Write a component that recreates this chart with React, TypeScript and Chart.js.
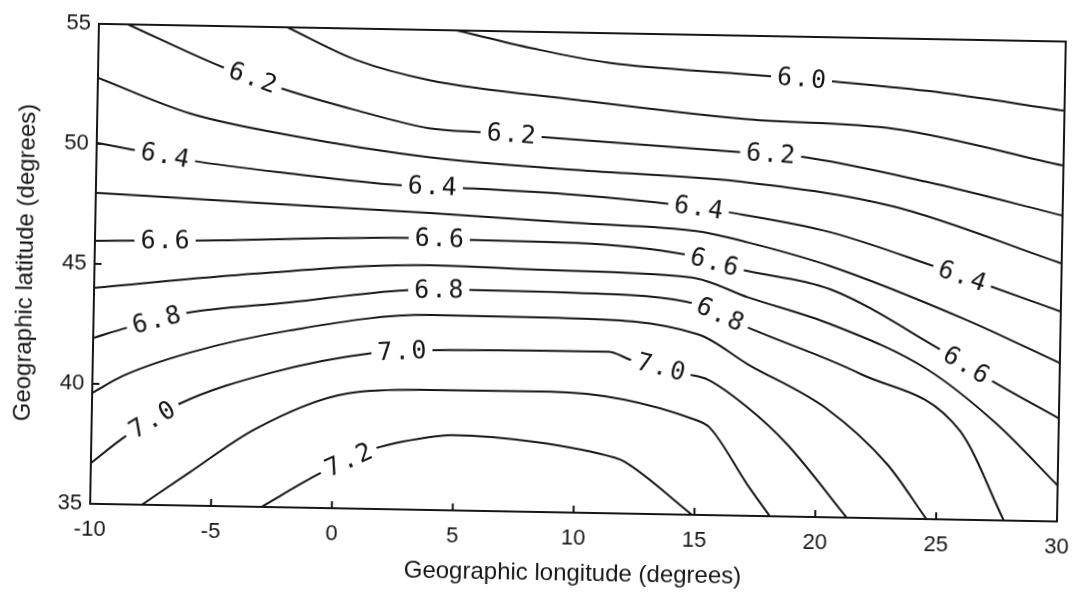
import React, { useEffect, useRef } from 'react';
import { Chart, registerables } from 'chart.js';

Chart.register(...registerables);

// Axis ticks
const lonTicks = [-10, -5, 0, 5, 10, 15, 20, 25, 30];
const latTicks = [35, 40, 45, 50, 55];

// Contour lines (longitude / latitude, degrees)
const c60Lon = [4.8, 8.0, 11.1, 16.9, 20.3, 24.3, 30];
const c60Lat = [55, 54.3, 53.77, 53.39, 53.17, 52.84, 52.12];

const c61Lon = [-2.2, 0.7, 3.7, 9.8, 16.9, 23.0, 30];
const c61Lat = [55, 53.68, 52.91, 52.2, 51.52, 51.23, 49.83];

const c62Lon = [-8.8, -4.8, -2.4, 0.7, 3.7, 6.1, 8.2, 16.6, 19.0, 24.35, 30];
const c62Lat = [55, 53.27, 52.45, 51.6, 50.91, 50.77, 50.64, 50.15, 50.02, 49.05, 47.75];

const c63Lon = [-10, -6.15, -2.0, 3.73, 9.8, 16.95, 23.0, 30];
const c63Lat = [52.75, 51.33, 50.5, 49.7, 49.28, 48.89, 48.0, 45.75];

const c64Lon = [-10, -6.05, -2.05, 2.55, 5.15, 9.85, 13.98, 16.26, 20.4, 24.8, 27.0, 30];
const c64Lat = [50.04, 49.37, 48.92, 48.51, 48.44, 48.24, 47.91, 47.62, 46.88, 45.51, 44.77, 43.75];

const c65Lon = [-10, -3.34, 3.8, 9.85, 14.95, 17.0, 20.45, 26.0, 30];
const c65Lat = [47.96, 47.67, 47.37, 47.07, 46.81, 46.39, 45.46, 43.37, 41.6];

const c66Lon = [-10, -5.96, 3.5, 5.6, 9.87, 14.4, 16.7, 20.45, 25.0, 27.2, 30];
const c66Lat = [45.96, 46.04, 46.32, 46.28, 46.24, 45.84, 45.26, 44.5, 42.1, 40.81, 39.3];

const c67Lon = [-10, -3.28, 3.84, 8.5, 14.7, 17.06, 20.48, 24.5, 27.43, 30];
const c67Lat = [44.0, 44.72, 45.2, 45.09, 44.89, 44.1, 43.05, 41.25, 39.02, 36.5];

const c68Lon = [-10, -8.62, -6.32, -1.91, 2.9, 5.5, 9.92, 14.99, 17.07, 21.76, 25.92, 27.8];
const c68Lat = [41.91, 42.36, 42.99, 43.54, 44.14, 44.2, 44.16, 43.77, 42.85, 41.0, 38.7, 35];

const c69Lon = [-10, -8.75, -6.0, -1.89, 3.88, 9.24, 15.02, 17.1, 20.42, 22.93, 24.6];
const c69Lat = [39.62, 40.35, 41.37, 42.37, 43.12, 43.1, 42.52, 41.31, 39.5, 37.26, 35];

const c70Lon = [-10, -8.56, -6.39, -2.57, 1.54, 4.01, 11.31, 12.25, 14.62, 15.43, 17.11, 18.79, 21.3];
const c70Lat = [36.7, 37.86, 39.23, 40.61, 41.49, 41.66, 41.73, 41.41, 40.85, 40.65, 39.52, 38.0, 35];

const c71Lon = [-7.86, -5.93, -3.2, 0.61, 3.91, 8.99, 14.94, 15.56, 17.16, 18.12];
const c71Lat = [35, 36.37, 38.26, 39.8, 40.0, 40.02, 38.97, 38.65, 36.31, 35];

const c72Lon = [-2.91, -0.45, 1.76, 3.94, 4.89, 8.35, 11.66, 12.07, 14.9];
const c72Lat = [35, 36.48, 37.53, 38.03, 38.14, 37.92, 37.32, 37.16, 35];

const levels = ['6.0', '6.1', '6.2', '6.3', '6.4', '6.5', '6.6', '6.7', '6.8', '6.9', '7.0', '7.1', '7.2'];
const contourLons = [c60Lon, c61Lon, c62Lon, c63Lon, c64Lon, c65Lon, c66Lon, c67Lon, c68Lon, c69Lon, c70Lon, c71Lon, c72Lon];
const contourLats = [c60Lat, c61Lat, c62Lat, c63Lat, c64Lat, c65Lat, c66Lat, c67Lat, c68Lat, c69Lat, c70Lat, c71Lat, c72Lat];

// Inline contour labels: which level, at which longitude
const labelLevels = ['6.0', '6.2', '6.2', '6.2', '6.4', '6.4', '6.4', '6.4', '6.6', '6.6', '6.6', '6.6', '6.8', '6.8', '6.8', '7.0', '7.0', '7.0', '7.2'];
const labelLons = [19.1, -3.6, 7.13, 17.88, -7.17, 3.91, 14.94, 25.89, -7.1, 4.24, 15.63, 26.12, -7.39, 4.26, 15.91, -7.49, 2.78, 13.5, 0.66];

const INK = '#161616';

const contourLabelPlugin = {
  id: 'contourLabels',
  afterDatasetsDraw(chart: any) {
    const { ctx, scales } = chart;
    const xs = scales.x;
    const ys = scales.y;
    ctx.save();
    ctx.font = '25px "DejaVu Sans Mono", monospace';
    ctx.textAlign = 'center';
    ctx.textBaseline = 'middle';
    try { (ctx as any).letterSpacing = '2px'; } catch (e) { /* ignore */ }
    for (let k = 0; k < labelLevels.length; k++) {
      const li = levels.indexOf(labelLevels[k]);
      const lon = contourLons[li];
      const lat = contourLats[li];
      const v = labelLons[k];
      let i = 0;
      while (i < lon.length - 2 && lon[i + 1] < v) i++;
      const t = (v - lon[i]) / (lon[i + 1] - lon[i]);
      const la = lat[i] + t * (lat[i + 1] - lat[i]);
      const px = xs.getPixelForValue(v);
      const py = ys.getPixelForValue(la);
      const ang = Math.atan2(
        ys.getPixelForValue(lat[i + 1]) - ys.getPixelForValue(lat[i]),
        xs.getPixelForValue(lon[i + 1]) - xs.getPixelForValue(lon[i])
      );
      const text = labelLevels[k];
      ctx.save();
      ctx.translate(px, py);
      ctx.rotate(ang);
      const w = ctx.measureText(text).width + 10;
      ctx.fillStyle = '#ffffff';
      ctx.fillRect(-w / 2, -10, w, 20);
      ctx.fillStyle = INK;
      ctx.fillText(text, 1, 1);
      ctx.restore();
    }
    ctx.restore();
  },
};

const framePlugin = {
  id: 'frameTicks',
  afterDraw(chart: any) {
    const { ctx, chartArea, scales } = chart;
    const { left, right, top, bottom } = chartArea;
    ctx.save();
    ctx.strokeStyle = INK;
    ctx.lineWidth = 2;
    ctx.strokeRect(left, top, right - left, bottom - top);
    ctx.beginPath();
    for (const v of lonTicks.slice(1, -1)) {
      const px = scales.x.getPixelForValue(v);
      ctx.moveTo(px, bottom);
      ctx.lineTo(px, bottom - 7);
    }
    for (const v of latTicks.slice(1, -1)) {
      const py = scales.y.getPixelForValue(v);
      ctx.moveTo(left, py);
      ctx.lineTo(left + 7, py);
    }
    ctx.stroke();
    ctx.restore();
  },
};

export default function App() {
  const ref = useRef<HTMLCanvasElement | null>(null);

  useEffect(() => {
    if (!ref.current) return;
    const datasets = levels.map((lv, i) => ({
      label: lv,
      data: contourLons[i].map((x, j) => ({ x, y: contourLats[i][j] })),
      showLine: true,
      borderColor: INK,
      borderWidth: 2,
      pointRadius: 0,
      pointHoverRadius: 0,
      cubicInterpolationMode: 'monotone',
      fill: false,
    }));
    const family = '"Liberation Sans", Arial, Helvetica, sans-serif';
    const chart = new Chart(ref.current, {
      type: 'scatter',
      data: { datasets },
      plugins: [contourLabelPlugin, framePlugin],
      options: {
        animation: false,
        responsive: true,
        maintainAspectRatio: false,
        layout: { padding: { top: 24, right: 13, left: 0, bottom: 0 } },
        plugins: {
          legend: { display: false },
          tooltip: { enabled: false },
        },
        events: [],
        scales: {
          x: {
            type: 'linear',
            min: -10,
            max: 30,
            afterBuildTicks: (s: any) => { s.ticks = lonTicks.map((v) => ({ value: v })); },
            ticks: {
              color: INK,
              font: { family, size: 22 },
              padding: 13,
              maxRotation: 0,
              autoSkip: false,
            },
            grid: { display: false, drawTicks: false },
            border: { display: false },
            title: {
              display: true,
              text: 'Geographic longitude (degrees)',
              color: INK,
              font: { family, size: 24, lineHeight: 1 },
              padding: { top: 0, bottom: 1 },
            },
            afterFit: (s: any) => { s.height = 74; s.paddingLeft = 0; s.paddingRight = 0; },
          },
          y: {
            type: 'linear',
            min: 35,
            max: 55,
            afterBuildTicks: (s: any) => { s.ticks = latTicks.map((v) => ({ value: v })); },
            ticks: {
              color: INK,
              font: { family, size: 22 },
              padding: 8,
              autoSkip: false,
            },
            grid: { display: false, drawTicks: false },
            border: { display: false },
            title: {
              display: true,
              text: 'Geographic latitude (degrees)',
              color: INK,
              font: { family, size: 24, lineHeight: 1 },
              padding: { top: 5, bottom: 0 },
            },
            afterFit: (s: any) => { s.width = 86; s.paddingTop = 0; s.paddingBottom = 0; },
          },
        },
      },
    } as any);
    return () => chart.destroy();
  }, []);

  return (
    <div style={{ position: 'fixed', left: 0, top: 0, right: 0, bottom: 0, overflow: 'hidden', background: '#fff' }}>
      <div
        style={{
          position: 'absolute',
          left: 8,
          top: 8,
          width: 1066,
          height: 578,
          transform: 'rotate(1.05deg)',
          transformOrigin: '50% 50%',
        }}
      >
        <canvas ref={ref} />
      </div>
    </div>
  );
}
